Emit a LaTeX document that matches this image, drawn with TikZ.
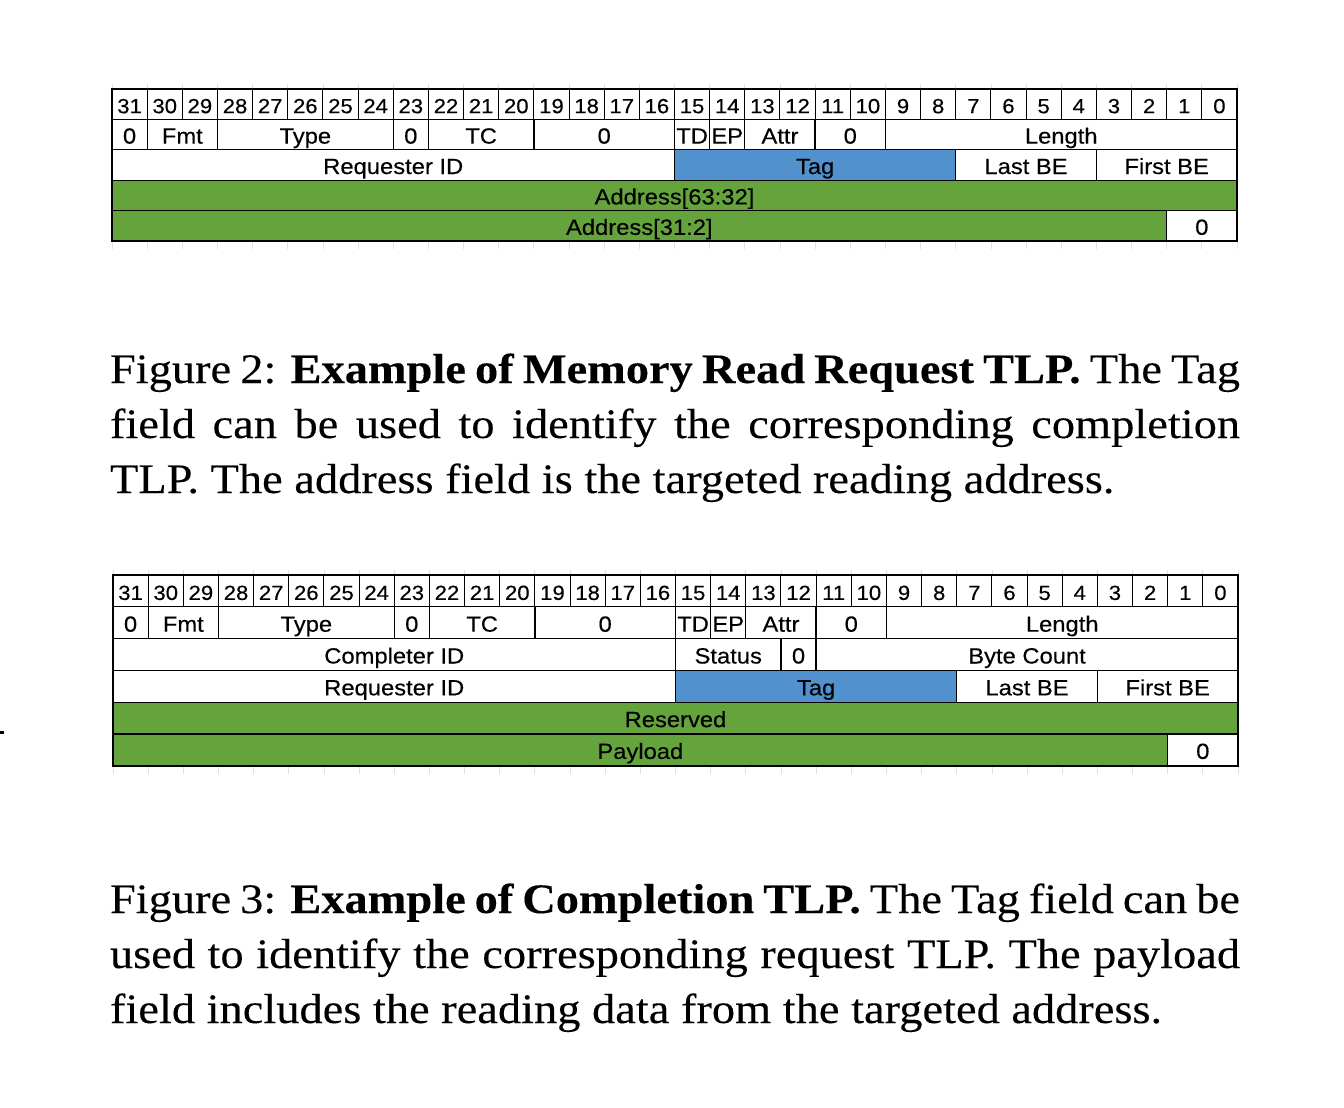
\documentclass[tikz,border=0pt]{standalone}
\usepackage{fontspec}
\setmainfont{Liberation Serif}[FakeStretch=1.105,FakeBold=0.2]
\newfontfamily\tblfont{Liberation Sans}[FakeStretch=1.08,FakeBold=0.3]
\definecolor{tagblue}{RGB}{80,145,206}
\definecolor{addrgreen}{RGB}{101,164,61}
\newcommand\cw{35.15625}
\def\rh{30.4}
\newcommand\fld[6]{%
  \pgfmathsetmacro\xa{(31-#3)*\cw}%
  \pgfmathsetmacro\ww{(#3-#4+1)*\cw}%
  \pgfmathsetmacro\ya{#2*\rh}%
  \node[fieldbox,#5,minimum width=\ww pt,minimum height=\rh pt,anchor=north west] (#1) at (\xa,\ya) {#6};}
\tikzset{
  fieldbox/.style={draw=black,line width=1.3pt,inner sep=0pt,outer sep=0pt,text height=18pt,text depth=0pt,
    font=\tblfont\fontsize{22}{24}\selectfont},
  hdr/.style={line width=1pt,font=\tblfont\fontsize{20.5}{24}\selectfont},
  blue/.style={fill=tagblue},
  green/.style={fill=addrgreen},
  frame/.style={draw=black,line width=2pt},
  ghost/.style={draw=black!12,line width=0.8pt},
  caption/.style={anchor=base west,inner sep=0pt,outer sep=0pt}
}
\begin{document}
\begin{tikzpicture}[x=1pt,y=-1pt]
\fill[white] (0,0) rectangle (1344,1108);
\useasboundingbox (0,0) rectangle (1344,1108);
% ---------------- Table 1 ----------------
\begin{scope}[shift={(112,89)}]
\def\rh{30.4}
\foreach \k in {0,...,32} {
  \draw[ghost] ({\k*\cw},-5) -- ({\k*\cw},-1);
  \draw[ghost] ({\k*\cw},{5*\rh+1}) -- ({\k*\cw},{5*\rh+8});
}
\foreach \b in {0,...,31} {\fld{ah\b}{0}{\b}{\b}{hdr}{\b}}
\fld{a0a}{1}{31}{31}{}{0}
\fld{afmt}{1}{30}{29}{}{Fmt}
\fld{atype}{1}{28}{24}{}{Type}
\fld{a0b}{1}{23}{23}{}{0}
\fld{atc}{1}{22}{20}{}{TC}
\fld{a0c}{1}{19}{16}{}{0}
\fld{atd}{1}{15}{15}{}{TD}
\fld{aep}{1}{14}{14}{}{EP}
\fld{aattr}{1}{13}{12}{}{Attr}
\fld{a0d}{1}{11}{10}{}{0}
\fld{alen}{1}{9}{0}{}{Length}
\fld{areq}{2}{31}{16}{}{Requester ID}
\fld{atag}{2}{15}{8}{blue}{Tag}
\fld{alast}{2}{7}{4}{}{Last BE}
\fld{afirst}{2}{3}{0}{}{First BE}
\fld{ahi}{3}{31}{0}{green}{Address[63:32]}
\fld{alo}{4}{31}{2}{green}{Address[31:2]}
\fld{a0e}{4}{1}{0}{}{0}
\draw[frame] (0,0) rectangle ({32*\cw},{5*\rh});
\end{scope}
% ---------------- Table 2 ----------------
\begin{scope}[shift={(113,575)}]
\def\rh{31.8}
\foreach \k in {0,...,32} {
  \draw[ghost] ({\k*\cw},-5) -- ({\k*\cw},-1);
  \draw[ghost] ({\k*\cw},{6*\rh+1}) -- ({\k*\cw},{6*\rh+8});
}
\foreach \b in {0,...,31} {\fld{bh\b}{0}{\b}{\b}{hdr}{\b}}
\fld{b0a}{1}{31}{31}{}{0}
\fld{bfmt}{1}{30}{29}{}{Fmt}
\fld{btype}{1}{28}{24}{}{Type}
\fld{b0b}{1}{23}{23}{}{0}
\fld{btc}{1}{22}{20}{}{TC}
\fld{b0c}{1}{19}{16}{}{0}
\fld{btd}{1}{15}{15}{}{TD}
\fld{bep}{1}{14}{14}{}{EP}
\fld{battr}{1}{13}{12}{}{Attr}
\fld{b0d}{1}{11}{10}{}{0}
\fld{blen}{1}{9}{0}{}{Length}
\fld{bcpl}{2}{31}{16}{}{Completer ID}
\fld{bstat}{2}{15}{13}{}{Status}
\fld{b0e}{2}{12}{12}{}{0}
\fld{bcount}{2}{11}{0}{}{Byte Count}
\fld{breq}{3}{31}{16}{}{Requester ID}
\fld{btag}{3}{15}{8}{blue}{Tag}
\fld{blast}{3}{7}{4}{}{Last BE}
\fld{bfirst}{3}{3}{0}{}{First BE}
\fld{bres}{4}{31}{0}{green}{Reserved}
\fld{bpay}{5}{31}{2}{green}{Payload}
\fld{b0f}{5}{1}{0}{}{0}
\draw[frame] (0,0) rectangle ({32*\cw},{6*\rh});
\end{scope}
% stray mark at the left edge
\fill[black] (0,731) rectangle (3.5,733.5);
% ---------------- Captions ----------------
\node[caption] (cap2) at (110,383) {\parbox[t]{1130pt}{\fontsize{42}{55}\selectfont
Figure 2: \textbf{Example of Memory Read Request TLP.} The Tag\linebreak
field can be used to identify the corresponding completion\linebreak
TLP. The address field is the targeted reading address.}};
\node[caption] (cap3) at (110,913) {\parbox[t]{1130pt}{\fontsize{42}{55}\selectfont
Figure 3: \textbf{Example of Completion TLP.} The Tag field can be\linebreak
used to identify the corresponding request TLP. The payload\linebreak
field includes the reading data from the targeted address.}};
\end{tikzpicture}
\end{document}
